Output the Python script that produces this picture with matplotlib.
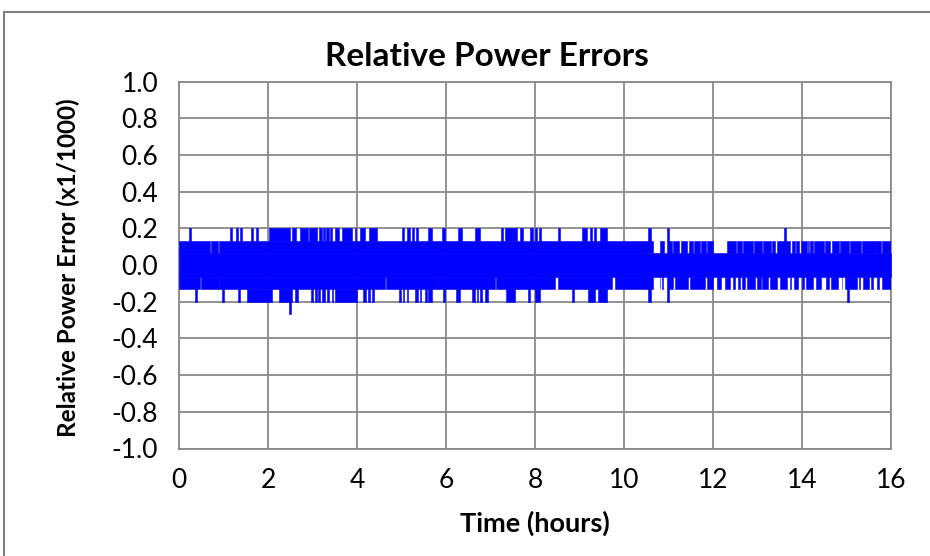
import matplotlib
matplotlib.use('Agg')
import matplotlib.pyplot as plt
from matplotlib.patches import Rectangle

plt.rcParams['font.family'] = ['Lato', 'DejaVu Sans']
plt.rcParams['axes.unicode_minus'] = False

# 数据：误差信号量化为 1/15 的倍数（单位 x1/1000），时间单位为小时
STEP = 1 / 15
t_end = 16.0

# 达到 +0.2 的时间段
up_spans = [(0.22, 0.26), (1.15, 1.20), (1.27, 1.32), (1.37, 1.41), (1.62, 1.66),
            (1.72, 1.77), (2.02, 2.50), (2.55, 2.62), (2.73, 2.90), (2.93, 3.11),
            (3.14, 3.21), (3.23, 3.27), (3.30, 3.36), (3.39, 3.44), (3.51, 3.60),
            (3.66, 3.88), (3.95, 3.98), (4.07, 4.18), (4.28, 4.44), (5.00, 5.06),
            (5.12, 5.18), (5.23, 5.28), (5.33, 5.38), (5.60, 5.68), (5.90, 5.98),
            (6.28, 6.35), (6.65, 6.76), (7.23, 7.29), (7.33, 7.59), (7.66, 7.74),
            (7.89, 7.95), (8.00, 8.04), (8.09, 8.13), (8.52, 8.56), (9.05, 9.16),
            (9.24, 9.29), (9.33, 9.38), (9.46, 9.61), (10.55, 10.61), (10.97, 11.00),
            (13.60, 13.64)]

# 达到 -0.2 的时间段
down_spans = [(0.36, 0.40), (0.96, 1.01), (1.32, 1.38), (1.52, 2.08), (2.25, 2.53),
              (2.61, 2.67), (2.97, 3.02), (3.06, 3.09), (3.13, 3.17), (3.21, 3.28),
              (3.32, 3.36), (3.43, 3.47), (3.51, 4.00), (4.14, 4.20), (4.24, 4.29),
              (4.34, 4.39), (4.94, 4.99), (5.03, 5.06), (5.12, 5.15), (5.30, 5.37),
              (5.42, 5.44), (5.53, 5.57), (5.60, 5.69), (5.93, 5.98), (6.22, 6.31),
              (6.58, 6.65), (6.70, 6.72), (6.76, 6.81), (6.88, 6.94), (7.35, 7.55),
              (7.84, 7.89), (8.00, 8.11), (8.84, 8.88), (9.20, 9.35), (9.42, 9.61),
              (10.55, 10.61), (10.97, 11.00), (15.02, 15.05)]

# 达到 -0.27 的尖峰
deep_spans = [(2.48, 2.51)]

# 上沿只到 +0.067 的时间段
top_notches = [(0.69, 0.71), (0.88, 0.90), (10.65, 10.81), (10.90, 10.96), (11.08, 11.11),
               (11.24, 11.27), (11.42, 11.46), (11.55, 11.57), (11.70, 11.74), (11.85, 11.87),
               (12.00, 12.31), (12.52, 12.54), (12.65, 12.67), (12.91, 12.93), (13.09, 13.13),
               (13.31, 13.33), (13.39, 13.44), (13.74, 13.78), (13.85, 13.87), (13.94, 13.97),
               (14.11, 14.13), (14.16, 14.18), (14.24, 14.27), (14.50, 14.52), (14.64, 14.68),
               (14.84, 14.86), (15.06, 15.08), (15.33, 15.35), (15.63, 15.65), (15.78, 15.80)]

# 下沿只到 -0.067 的时间段
bottom_notches = [(0.47, 0.50), (0.89, 0.91), (4.63, 4.65), (5.81, 5.83), (7.11, 7.13),
                  (8.45, 8.52), (9.72, 9.80), (10.65, 10.80), (10.81, 10.85), (10.88, 10.96),
                  (11.11, 11.15), (11.44, 11.48), (11.82, 11.86), (12.01, 12.08), (12.18, 12.27),
                  (12.39, 12.44), (12.50, 12.56), (12.61, 12.66), (12.72, 12.76), (12.94, 12.98),
                  (13.07, 13.11), (13.24, 13.28), (13.44, 13.50), (13.67, 13.72), (13.75, 13.83),
                  (13.92, 13.99), (14.04, 14.10), (14.25, 14.32), (14.42, 14.54), (14.60, 14.66),
                  (14.82, 14.89), (14.91, 14.96), (15.24, 15.29), (15.31, 15.36), (15.50, 15.56),
                  (15.60, 15.68), (15.72, 15.79)]

y_ticks = [-1.0, -0.8, -0.6, -0.4, -0.2, 0.0, 0.2, 0.4, 0.6, 0.8, 1.0]
x_ticks = [0, 2, 4, 6, 8, 10, 12, 14, 16]

BLUE = '#0000FF'
GRID = '#898989'


def complement(spans, lo=0.0, hi=t_end):
    """返回不在 spans 中的区间"""
    gaps = []
    cur = lo
    for a, b in sorted(spans):
        if a > cur:
            gaps.append((cur, a))
        cur = max(cur, b)
    if cur < hi:
        gaps.append((cur, hi))
    return gaps


def to_xranges(spans):
    return [(a, b - a) for a, b in spans]


fig = plt.figure(figsize=(9.3, 5.56), dpi=100)
ax = fig.add_axes([179 / 930, 1 - 448.5 / 556, (891 - 179) / 930, (448.5 - 81.5) / 556])

kw = dict(facecolors=BLUE, edgecolors=BLUE, linewidth=0.4, zorder=3)
# 中心带
ax.broken_barh([(0, t_end)], (-STEP, 2 * STEP), **kw)
ax.broken_barh(to_xranges(complement(top_notches)), (STEP, STEP), **kw)
ax.broken_barh(to_xranges(complement(bottom_notches)), (-2 * STEP, STEP), **kw)
# 尖峰
ax.broken_barh(to_xranges(up_spans), (2 * STEP, STEP), **kw)
ax.broken_barh(to_xranges(down_spans), (-3 * STEP, STEP), **kw)
ax.broken_barh(to_xranges(deep_spans), (-4 * STEP, STEP), **kw)

ax.set_xlim(0, 16)
ax.set_ylim(-1.0, 1.0)
ax.set_xticks(x_ticks)
ax.set_yticks(y_ticks)
ax.set_yticklabels([f'{v:.1f}' for v in y_ticks])
ax.grid(True, color=GRID, linewidth=1.3)
ax.set_axisbelow(True)
for s in ax.spines.values():
    s.set_color(GRID)
    s.set_linewidth(1.3)
ax.tick_params(length=0, labelsize=19)
ax.tick_params(axis='y', pad=15)
ax.tick_params(axis='x', pad=14)

fig.text(486.5 / 930, 1 - 57 / 556, 'Relative Power Errors', fontsize=24, fontweight='bold',
         ha='center', va='center')
ax.set_xlabel('Time (hours)', fontsize=19.5, fontweight='bold')
ax.xaxis.set_label_coords(0.5, (448.5 - 523) / 367)
ax.xaxis.label.set_va('center')
ax.set_ylabel('Relative Power Error (x1/1000)', fontsize=17.5, fontweight='bold')
ax.yaxis.set_label_coords((68 - 179) / 712, (448.5 - 268) / 367)
ax.yaxis.label.set_va('center')

# 外框
fig.patches.append(Rectangle((4 / 930, -0.1), 1.2, 1 - 12 / 556 + 0.1, transform=fig.transFigure,
                             fill=False, edgecolor='#7F7F7F', linewidth=1.5))

fig.savefig('out.png', dpi=100)
